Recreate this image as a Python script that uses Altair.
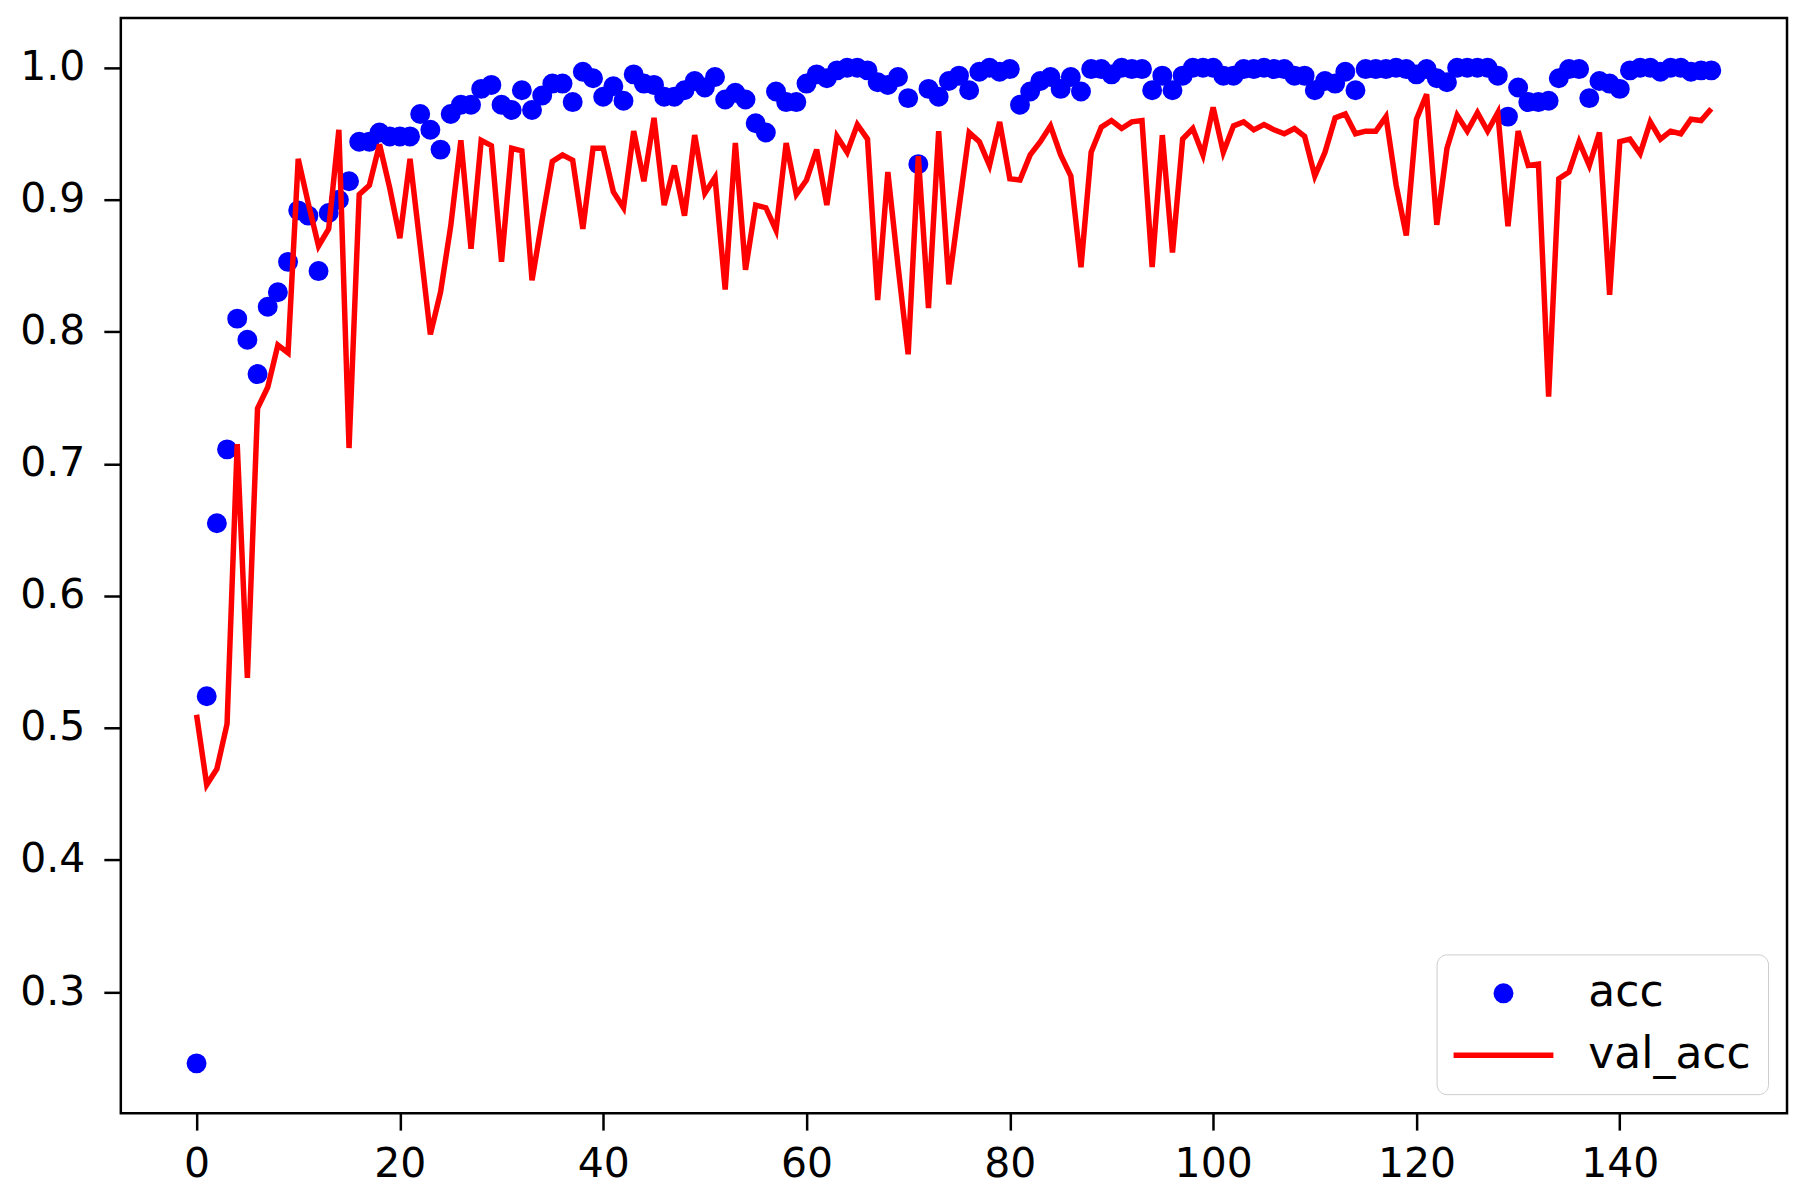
import altair as alt
import pandas as pd

epochs = list(range(150))

acc = [
    0.246, 0.524, 0.655, 0.711, 0.810, 0.794, 0.768, 0.819, 0.830, 0.853,
    0.892, 0.888, 0.846, 0.890, 0.900, 0.914, 0.944, 0.944, 0.951, 0.948,
    0.948, 0.948, 0.965, 0.953, 0.938, 0.965, 0.972, 0.972, 0.984, 0.987,
    0.972, 0.968, 0.983, 0.968, 0.979, 0.988, 0.988, 0.974, 0.997, 0.992,
    0.978, 0.986, 0.975, 0.995, 0.988, 0.987, 0.978, 0.978, 0.983, 0.990,
    0.985, 0.993, 0.976, 0.981, 0.976, 0.958, 0.951, 0.982, 0.974, 0.974,
    0.988, 0.995, 0.992, 0.998, 1.000, 1.000, 0.998, 0.989, 0.987, 0.993,
    0.977, 0.927, 0.984, 0.978, 0.990, 0.994, 0.983, 0.997, 1.000, 0.997,
    0.999, 0.972, 0.982, 0.990, 0.993, 0.984, 0.993, 0.982, 0.999, 0.999,
    0.995, 1.000, 0.999, 0.999, 0.983, 0.994, 0.983, 0.994, 1.000, 1.000,
    1.000, 0.994, 0.994, 0.999, 0.999, 1.000, 0.999, 0.999, 0.994, 0.994,
    0.983, 0.990, 0.988, 0.997, 0.983, 0.999, 0.999, 0.999, 1.000, 0.999,
    0.995, 0.999, 0.992, 0.989, 1.000, 1.000, 1.000, 1.000, 0.994, 0.963,
    0.985, 0.974, 0.974, 0.975, 0.992, 0.999, 0.999, 0.977, 0.990, 0.988,
    0.984, 0.998, 1.000, 1.000, 0.997, 1.000, 1.000, 0.997, 0.998, 0.998,
]

val_acc = [
    0.510, 0.457, 0.469, 0.503, 0.715, 0.538, 0.742, 0.758, 0.790, 0.784,
    0.931, 0.897, 0.865, 0.878, 0.953, 0.712, 0.904, 0.911, 0.942, 0.909,
    0.871, 0.931, 0.865, 0.798, 0.830, 0.880, 0.945, 0.863, 0.945, 0.941,
    0.853, 0.939, 0.937, 0.839, 0.885, 0.929, 0.934, 0.930, 0.878, 0.939,
    0.939, 0.906, 0.894, 0.952, 0.914, 0.962, 0.896, 0.926, 0.888, 0.949,
    0.905, 0.917, 0.832, 0.943, 0.847, 0.896, 0.894, 0.877, 0.943, 0.904,
    0.915, 0.938, 0.896, 0.948, 0.936, 0.957, 0.946, 0.824, 0.921, 0.850,
    0.783, 0.933, 0.818, 0.952, 0.836, 0.894, 0.951, 0.944, 0.926, 0.959,
    0.916, 0.915, 0.934, 0.944, 0.956, 0.934, 0.918, 0.849, 0.936, 0.955,
    0.960, 0.954, 0.959, 0.960, 0.849, 0.949, 0.860, 0.946, 0.954, 0.934,
    0.970, 0.936, 0.956, 0.959, 0.953, 0.957, 0.953, 0.950, 0.954, 0.948,
    0.918, 0.936, 0.962, 0.965, 0.950, 0.952, 0.952, 0.963, 0.911, 0.873,
    0.961, 0.980, 0.881, 0.939, 0.964, 0.952, 0.966, 0.952, 0.966, 0.880,
    0.952, 0.926, 0.927, 0.751, 0.916, 0.921, 0.944, 0.926, 0.951, 0.828,
    0.944, 0.946, 0.935, 0.959, 0.946, 0.952, 0.950, 0.961, 0.960, 0.969,
]

series_names = ["acc", "val_acc"]
series_colors = ["#0000ff", "#ff0000"]
# legend glyphs: a dot for acc, a short horizontal line for val_acc
series_shapes = ["circle", "M-2,0L2,0"]
series_sizes = [210, 2500]
x_ticks = [0, 20, 40, 60, 80, 100, 120, 140]
y_ticks = [0.3, 0.4, 0.5, 0.6, 0.7, 0.8, 0.9, 1.0]

acc_df = pd.DataFrame({"epoch": epochs, "value": acc, "series": "acc"})
val_df = pd.DataFrame({"epoch": epochs, "value": val_acc, "series": "val_acc"})

x_enc = alt.X(
    "epoch:Q",
    scale=alt.Scale(domain=[-7.45, 156.45], nice=False, zero=False),
    axis=alt.Axis(values=x_ticks, format="d", title=None, labelPadding=14),
)
y_enc = alt.Y(
    "value:Q",
    scale=alt.Scale(domain=[0.2083, 1.0377], nice=False, zero=False),
    axis=alt.Axis(values=y_ticks, format=".1f", title=None, labelPadding=19),
)

legend = alt.Legend(
    title=None,
    orient="bottom-right",
    offset=19,
    padding=17,
    cornerRadius=10,
    strokeColor="#cccccc",
    fillColor="white",
    labelFont="DejaVu Sans",
    labelFontSize=44,
    labelColor="black",
    symbolOffset=22,
    labelOffset=57,
    labelLimit=400,
    rowPadding=12,
    symbolStrokeWidth=5.5,
)

points = alt.Chart(acc_df).mark_point(filled=True, opacity=1, strokeWidth=5.5).encode(
    x=x_enc,
    y=y_enc,
    fill=alt.Fill("series:N", scale=alt.Scale(domain=series_names, range=series_colors), legend=legend),
    stroke=alt.Stroke("series:N", scale=alt.Scale(domain=series_names, range=series_colors), legend=legend),
    shape=alt.Shape("series:N", scale=alt.Scale(domain=series_names, range=series_shapes), legend=legend),
    size=alt.Size("series:N", scale=alt.Scale(type="ordinal", domain=series_names, range=series_sizes), legend=legend),
)

line = alt.Chart(val_df).mark_line(color="#ff0000", strokeWidth=5.5).encode(
    x=x_enc,
    y=y_enc,
)

chart = (
    alt.layer(points, line)
    .properties(
        width=1669,
        height=1097,
        autosize=alt.AutoSizeParams(type="none"),
        padding={"left": 113, "top": 9, "right": 10, "bottom": 75},
    )
    .configure_view(stroke="black", strokeWidth=2.5)
    .configure_axis(
        grid=False,
        domain=False,
        tickColor="black",
        tickWidth=2.5,
        tickSize=17,
        labelFont="DejaVu Sans",
        labelFontSize=41,
        labelColor="black",
    )
)

chart.save("out.html", embed_options={"renderer": "svg", "actions": False})
